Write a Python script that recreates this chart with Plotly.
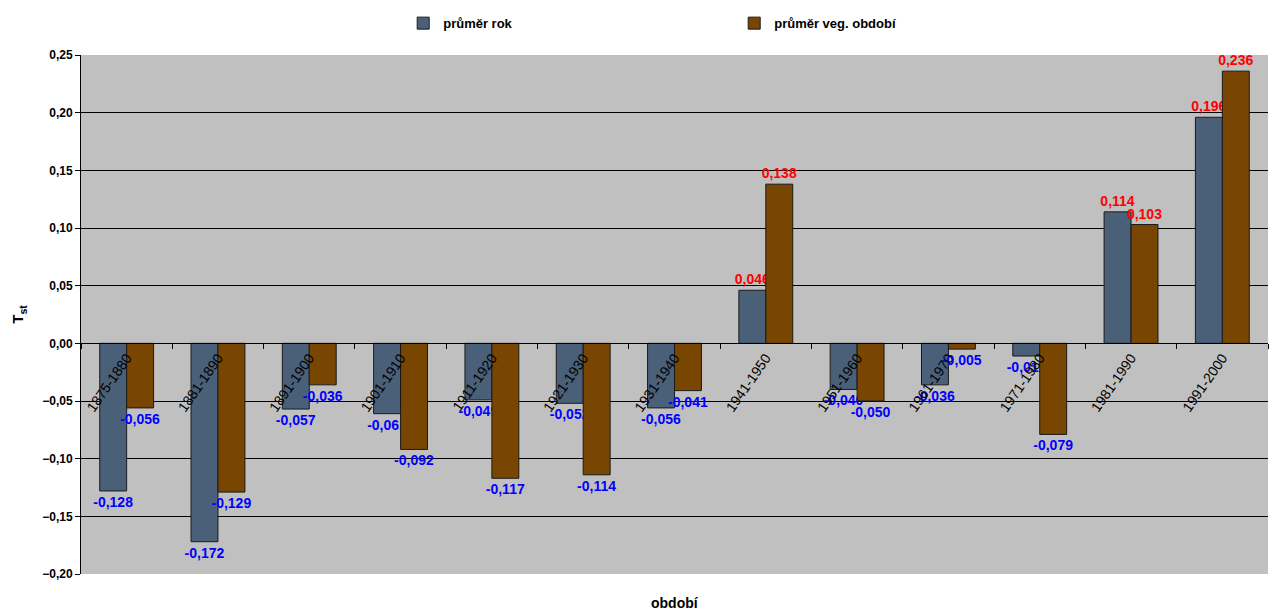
import plotly.graph_objects as go

# Data
obdobi = ["1875-1880", "1881-1890", "1891-1900", "1901-1910", "1911-1920",
          "1921-1930", "1931-1940", "1941-1950", "1951-1960", "1961-1970",
          "1971-1980", "1981-1990", "1991-2000"]
prumer_rok = [-0.128, -0.172, -0.057, -0.061, -0.049, -0.052, -0.056,
              0.046, -0.040, -0.036, -0.011, 0.114, 0.196]
prumer_veg = [-0.056, -0.129, -0.036, -0.092, -0.117, -0.114, -0.041,
              0.138, -0.050, -0.005, -0.079, 0.103, 0.236]

y_min, y_max = -0.20, 0.25
font_family = "Liberation Sans, Arial, sans-serif"


def label_colors(vals):
    return ["#FF0000" if v > 0 else "#0000FF" for v in vals]


fig = go.Figure()
for name, vals, color in [
    ("průměr rok", prumer_rok, "#4A5F78"),
    ("průměr veg. období", prumer_veg, "#784600"),
]:
    fig.add_trace(go.Bar(
        x=obdobi,
        y=vals,
        name=name,
        marker=dict(color=color, line=dict(color="#1a1a1a", width=1)),
        texttemplate="%{y:.3f}",
        textposition="outside",
        constraintext="none",
        textfont=dict(color=label_colors(vals), size=14,
                      family=font_family, weight="bold"),
        cliponaxis=False,
    ))

fig.update_layout(
    width=1280,
    height=610,
    margin=dict(l=81, r=12, t=55, b=36, autoexpand=False),
    paper_bgcolor="white",
    plot_bgcolor="#C0C0C0",
    separators=", ",
    font=dict(family=font_family, size=12, color="black"),
    barmode="group",
    bargap=0.41,
    bargroupgap=0,
    showlegend=True,
    legend=dict(
        orientation="h",
        xref="container", yref="container",
        x=0.315, xanchor="left",
        y=0.962, yanchor="middle",
        entrywidth=286, entrywidthmode="pixels",
        font=dict(size=13, weight="bold"),
        itemwidth=30,
    ),
    xaxis=dict(
        type="category",
        anchor="free",
        position=(0 - y_min) / (y_max - y_min),
        showline=True, linecolor="black", linewidth=1,
        ticks="outside", ticklen=5, tickcolor="black",
        tickson="boundaries",
        tickangle=-55,
        tickfont=dict(size=14, color="black"),
        showgrid=False,
        automargin=False,
    ),
    yaxis=dict(
        range=[y_min, y_max],
        dtick=0.05,
        tickformat=".2f",
        showline=True, linecolor="black", linewidth=1,
        ticks="outside", ticklen=5, tickcolor="black",
        showgrid=True, gridcolor="black", gridwidth=1,
        zeroline=False,
        tickfont=dict(size=12, weight="bold"),
        automargin=False,
        title=dict(text="T<sub>st</sub>", font=dict(size=15, weight="bold"), standoff=14),
    ),
    annotations=[dict(
        text="<b>období</b>", xref="paper", yref="paper",
        x=0.5, y=-29 / 519, yanchor="middle", showarrow=False,
        font=dict(size=14),
    )],
)

# remove the default page margin so the chart sits at the window's corner
fig.write_html("out.html", config={"displayModeBar": False},
               post_script="document.body.style.margin='0';")
